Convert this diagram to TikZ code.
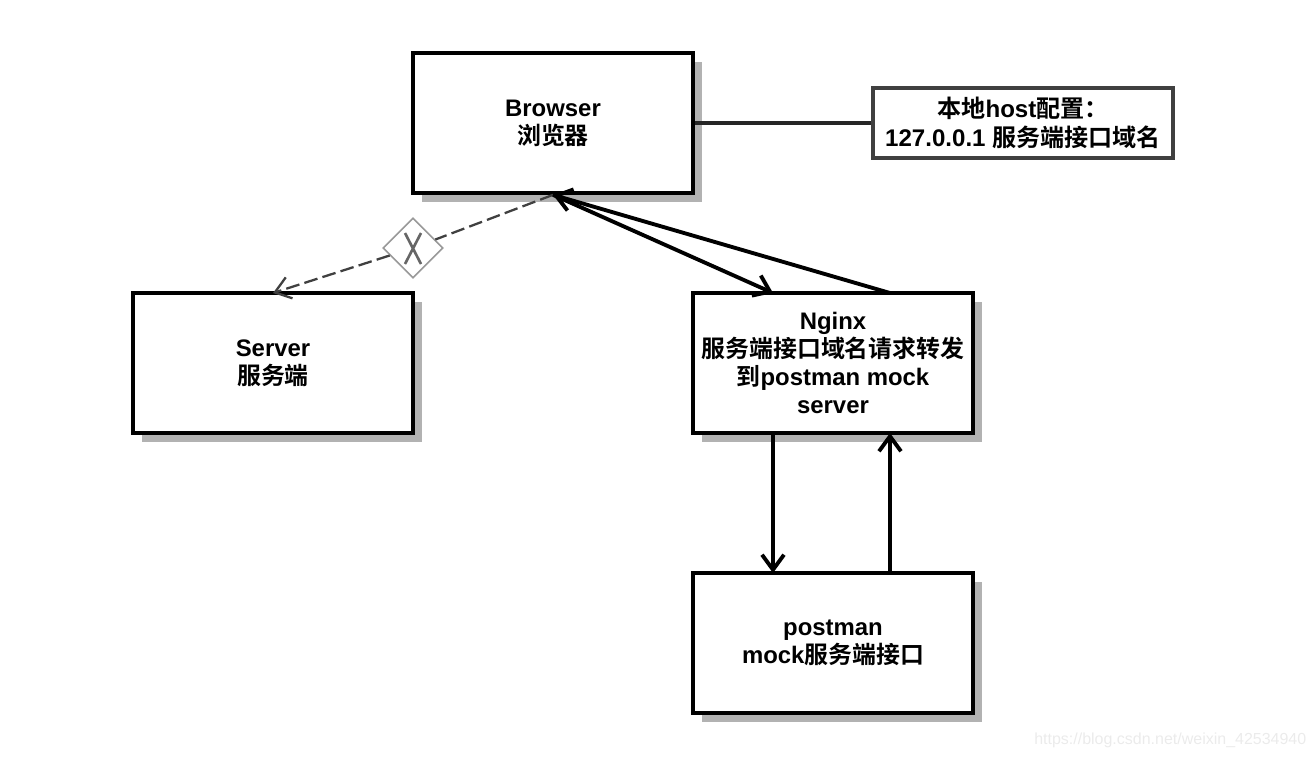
\documentclass[tikz,border=0pt]{standalone}
\usepackage{fontspec}
\setmainfont{Liberation Sans}
\newfontfamily\cjk{Noto Sans CJK SC}[BoldFont={Noto Sans CJK SC Bold}]
\usetikzlibrary{arrows.meta,shapes.geometric,shadows}
\begin{document}
\begin{tikzpicture}[>={Straight Barb[length=1.5mm,width=2.2mm]}]
            \tikzstyle{block}=[draw=black, fill=white, line width=1.05pt, minimum width=2.8cm, minimum height=1.4cm, align=center, inner sep=0pt, font=\fontsize{6.8}{8}\selectfont\bfseries, drop shadow={shadow xshift=0.09cm, shadow yshift=-0.09cm, fill=black!30, opacity=1}]
            \tikzstyle{note}=[draw=black!75, fill=white, line width=1.05pt, minimum width=3cm, minimum height=0.7cm, align=center, inner sep=0pt, font=\fontsize{6.85}{8.2}\selectfont\bfseries]
            \tikzstyle{gate}=[diamond, draw=black!40, fill=white, line width=0.45pt, minimum width=0.6cm, minimum height=0.6cm, inner sep=0pt]
            \tikzstyle{flow}=[line width=1.1pt, black, ->]
            \tikzstyle{blocked}=[line width=0.65pt, black!75, dash pattern=on 3.9pt off 1.5pt]
            \useasboundingbox (0, 0) rectangle (13.16, 7.58);
            \node [block] (browser) at (5.53, 6.35) {Browser\\{\cjk 浏览器}};
            \node [block] (server) at (2.73, 3.95) {Server\\{\cjk 服务端}};
            \node [block] (nginx) at (8.33, 3.95) {Nginx\\{\cjk 服务端接口域名请求转发}\\{\cjk 到}postman mock\\server};
            \node [block] (postman) at (8.33, 1.15) {postman\\mock{\cjk 服务端接口}};
            \node [note] (host) at (10.23, 6.35) {{\cjk 本地}host{\cjk 配置：}\\127.0.0.1 {\cjk 服务端接口域名}};
            \node [gate] (xgate) at (4.13, 5.10) {};
            \draw [black!60, line width=0.75pt] (xgate.center) ++(-0.08, 0.15) -- ++(0.16, -0.31);
            \draw [black!60, line width=0.75pt] (xgate.center) ++(0.08, 0.15) -- ++(-0.16, -0.31);
            % connectors
            \coordinate (serverin) at (2.73, 4.65);
            \coordinate (nginxin) at (7.73, 4.65);
            \coordinate (nginxout) at (8.90, 4.65);
            \coordinate (nginxdown) at (7.73, 3.25);
            \coordinate (nginxup) at (8.90, 3.25);
            \coordinate (postmanin) at (7.73, 1.85);
            \coordinate (postmanout) at (8.90, 1.85);
            \draw [line width=1.1pt, black!85] (browser) -- (host);
            \draw [blocked] (browser.south) -- (xgate);
            \draw [blocked, ->] (xgate) -- (serverin);
            \draw [flow] (browser.south) -- (nginxin);
            \draw [flow] (nginxout) -- (browser.south);
            \draw [flow] (nginxdown) -- (postmanin);
            \draw [flow] (postmanout) -- (nginxup);
            \node [black!8, anchor=east, inner sep=0pt, font=\fontsize{4.55}{6}\selectfont] (mark) at (13.07, 0.18) {https://blog.csdn.net/weixin\_42534940};
        \end{tikzpicture}
\end{document}
